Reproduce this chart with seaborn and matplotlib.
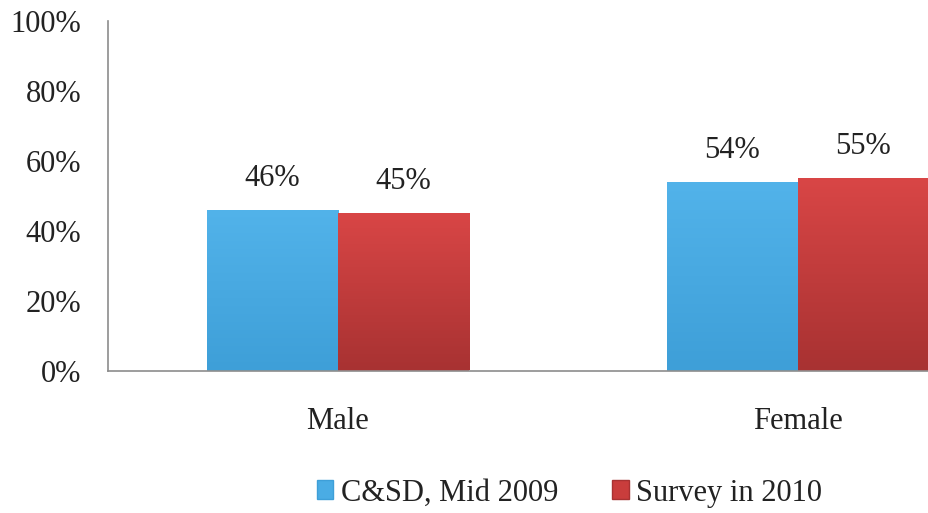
import numpy as np
import pandas as pd
import matplotlib
matplotlib.use("Agg")
import matplotlib.pyplot as plt
import seaborn as sns
from matplotlib.colors import LinearSegmentedColormap
from matplotlib.patches import Patch

# data
generos = ["Male", "Female"]
series = ["C&SD, Mid 2009", "Survey in 2010"]
valores_2009 = [0.46, 0.54]
valores_2010 = [0.45, 0.55]
etiquetas_y = ["0%", "20%", "40%", "60%", "80%", "100%"]

df = pd.DataFrame({
    "genero": generos * 2,
    "serie": [series[0]] * 2 + [series[1]] * 2,
    "valor": valores_2009 + valores_2010,
})

sns.set_style("white")
plt.rcParams["font.family"] = ["Liberation Serif", "DejaVu Serif"]

colores = {series[0]: "#4AACE4", series[1]: "#C93D3C"}
tam = 22

fig = plt.figure(figsize=(9.29, 5.13), dpi=100)
ax = fig.add_axes([107.7 / 929, (513 - 370.5) / 513, 920 / 929, 350 / 513])

sns.barplot(data=df, x="genero", y="valor", hue="serie", order=generos,
            hue_order=series, palette=colores, width=0.57, saturation=1,
            linewidth=0, ax=ax, legend=False)

# degradado suave sobre cada barra (más oscuro abajo)
grad = np.linspace(0, 1, 256).reshape(-1, 1)
tonos = {series[0]: ("#3E9FD8", "#52B3EA"), series[1]: ("#A83232", "#D94646")}
for cont, s in zip(ax.containers, series):
    cmap = LinearSegmentedColormap.from_list(s, list(tonos[s]))
    for barra in cont:
        x0, y0 = barra.get_x(), barra.get_y()
        w, h = barra.get_width(), barra.get_height()
        im = ax.imshow(grad, extent=[x0, x0 + w, y0, y0 + h], origin="lower",
                       aspect="auto", cmap=cmap, zorder=barra.get_zorder() + 0.1)
        im.set_clip_path(barra)
    ax.bar_label(cont, labels=[f"{v*100:.0f}%" for v in cont.datavalues],
                 padding=12, fontsize=tam, color="#222222")

ax.set_xlim(-0.5, 1.5)
ax.set_ylim(0, 1)
ax.set_yticks(np.linspace(0, 1, 6))
ax.set_yticklabels(etiquetas_y)
ax.set_xlabel("")
ax.set_ylabel("")
ax.tick_params(axis="y", length=0, pad=19, labelsize=tam, labelcolor="#222222")
ax.tick_params(axis="x", length=0, pad=26, labelsize=tam, labelcolor="#222222")

sns.despine(ax=ax, top=True, right=True)
for lado in ["left", "bottom"]:
    ax.spines[lado].set_color("#8C8C8C")
    ax.spines[lado].set_linewidth(1.2)

# leyenda abajo
manejadores = [Patch(facecolor=colores[s], edgecolor=tonos[s][0], label=s) for s in series]
fig.legend(handles=manejadores, loc="center", bbox_to_anchor=(569.5 / 929, 1 - 493 / 513),
           ncol=2, frameon=False, fontsize=tam, handlelength=0.55, handleheight=0.55,
           handletextpad=0.25, columnspacing=1.75, labelcolor="#222222")

fig.savefig("out.png", dpi=100)
